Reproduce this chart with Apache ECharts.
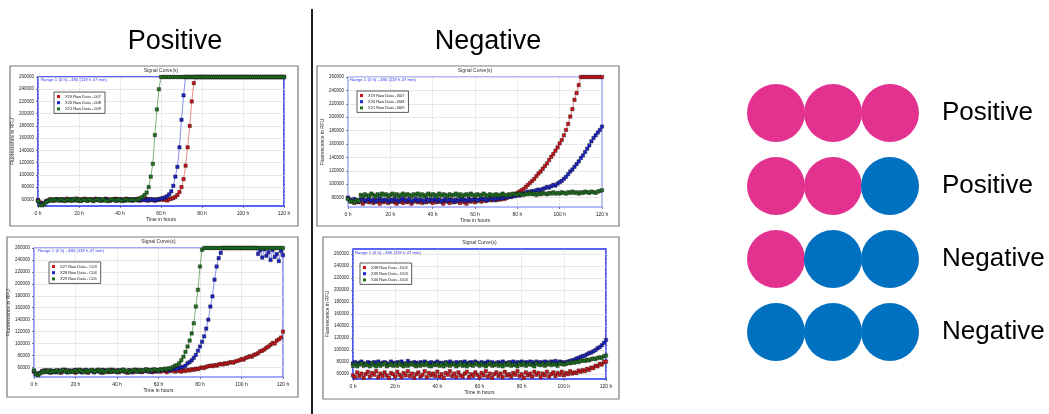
<!DOCTYPE html>
<html>
<head>
<meta charset="utf-8">
<script src="https://cdn.jsdelivr.net/npm/echarts@6/dist/echarts.min.js"></script>
<style>
    html, body { margin: 0; padding: 0; background: #fff; }
    #chart { width: 1049px; height: 414px; }
</style>
</head>
<body>
<div id="chart"></div>
<script>
// sample times (hours)
const hours = [
    0, 1, 2, 3, 4, 5, 6, 7, 8, 9, 10, 11, 12, 13, 14, 15, 16, 17, 18, 19,
    20, 21, 22, 23, 24, 25, 26, 27, 28, 29, 30, 31, 32, 33, 34, 35, 36, 37, 38, 39,
    40, 41, 42, 43, 44, 45, 46, 47, 48, 49, 50, 51, 52, 53, 54, 55, 56, 57, 58, 59,
    60, 61, 62, 63, 64, 65, 66, 67, 68, 69, 70, 71, 72, 73, 74, 75, 76, 77, 78, 79,
    80, 81, 82, 83, 84, 85, 86, 87, 88, 89, 90, 91, 92, 93, 94, 95, 96, 97, 98, 99,
    100, 101, 102, 103, 104, 105, 106, 107, 108, 109, 110, 111, 112, 113, 114, 115, 116, 117, 118, 119, 120
]

// y tick labels (x1000 RFU)
const yTicksFrom60 = [60, 80, 100, 120, 140, 160, 180, 200, 220, 240, 260]
const yTicksFrom80 = [80, 100, 120, 140, 160, 180, 200, 220, 240, 260]

// panel 1 (positive, top) - fluorescence x1000 RFU
const p1Names = ['X19 Raw Data - 007', 'X20 Raw Data - 008', 'X21 Raw Data - 009']
const p1Red = [
    59, 55, 53, 54, 57, 58, 60, 59, 58, 60,
    59, 60, 58, 59, 61, 59, 58, 60, 59, 61,
    58, 60, 59, 61, 58, 59, 60, 58, 61, 59,
    60, 58, 59, 61, 60, 58, 59, 60, 61, 58,
    59, 60, 58, 61, 59, 60, 58, 59, 60, 61,
    58, 60, 59, 61, 58, 60, 59, 58, 60, 59,
    61, 59, 60, 58, 60, 61, 62, 64, 67, 72,
    80, 93, 115, 145, 180, 220, 250, 260, 260, 260,
    260, 260, 260, 260, 260, 260, 260, 260, 260, 260,
    260, 260, 260, 260, 260, 260, 260, 260, 260, 260,
    260, 260, 260, 260, 260, 260, 260, 260, 260, 260,
    260, 260, 260, 260, 260, 260, 260, 260, 260, 260, 260
]
const p1Blue = [
    58, 53, 51, 53, 56, 58, 59, 58, 59, 60,
    59, 58, 60, 59, 58, 59, 60, 58, 59, 60,
    58, 59, 60, 59, 58, 60, 59, 58, 60, 59,
    60, 58, 59, 60, 59, 58, 59, 60, 58, 59,
    60, 59, 58, 59, 60, 59, 58, 60, 59, 58,
    59, 60, 59, 58, 60, 59, 60, 58, 59, 60,
    61, 62, 63, 65, 68, 73, 82, 97, 113, 145,
    190, 230, 260, 260, 260, 260, 260, 260, 260, 260,
    260, 260, 260, 260, 260, 260, 260, 260, 260, 260,
    260, 260, 260, 260, 260, 260, 260, 260, 260, 260,
    260, 260, 260, 260, 260, 260, 260, 260, 260, 260,
    260, 260, 260, 260, 260, 260, 260, 260, 260, 260, 260
]
const p1Green = [
    57, 51, 50, 52, 55, 57, 59, 58, 60, 59,
    58, 60, 59, 57, 59, 60, 58, 59, 61, 58,
    59, 57, 60, 59, 58, 60, 59, 57, 59, 60,
    58, 59, 60, 58, 57, 59, 60, 59, 58, 60,
    59, 57, 59, 60, 58, 59, 60, 59, 59, 60,
    62, 64, 67, 71, 80, 97, 118, 165, 207, 240,
    260, 260, 260, 260, 260, 260, 260, 260, 260, 260,
    260, 260, 260, 260, 260, 260, 260, 260, 260, 260,
    260, 260, 260, 260, 260, 260, 260, 260, 260, 260,
    260, 260, 260, 260, 260, 260, 260, 260, 260, 260,
    260, 260, 260, 260, 260, 260, 260, 260, 260, 260,
    260, 260, 260, 260, 260, 260, 260, 260, 260, 260, 260
]

// panel 2 (negative, top)
const p2Names = ['X19 Raw Data - B07', 'X20 Raw Data - B08', 'X21 Raw Data - B09']
const p2Red = [
    79, 76, 74, 72, 75, 73, 77, 71, 74, 76,
    73, 75, 72, 76, 74, 71, 75, 73, 76, 72,
    74, 76, 73, 71, 75, 74, 72, 76, 73, 75,
    71, 74, 76, 73, 75, 72, 74, 73, 76, 74,
    72, 75, 73, 76, 74, 71, 75, 74, 72, 76,
    73, 75, 74, 72, 76, 73, 71, 75, 74, 76,
    73, 75, 76, 74, 77, 75, 76, 78, 76, 77,
    76, 78, 77, 79, 78, 80, 82, 81, 84, 85,
    87, 89, 91, 93, 96, 99, 102, 105, 108, 112,
    116, 119, 123, 127, 131, 136, 141, 145, 150, 155,
    161, 166, 173, 181, 190, 201, 212, 226, 236, 248,
    260, 260, 260, 260, 260, 260, 260, 260, 260, 260, 260
]
const p2Blue = [
    80, 77, 75, 78, 76, 74, 77, 79, 75, 76,
    78, 75, 77, 74, 76, 79, 75, 77, 76, 74,
    77, 75, 78, 76, 74, 77, 79, 75, 76, 78,
    74, 76, 78, 75, 77, 76, 74, 78, 75, 77,
    76, 78, 75, 77, 74, 76, 78, 75, 77, 76,
    74, 77, 75, 78, 76, 77, 75, 78, 76, 77,
    78, 76, 77, 79, 77, 78, 76, 79, 78, 77,
    79, 78, 80, 79, 81, 80, 82, 81, 83, 82,
    84, 83, 85, 86, 87, 89, 88, 90, 89, 91,
    92, 91, 93, 94, 96, 95, 97, 99, 98, 101,
    103, 105, 108, 111, 115, 119, 122, 126, 130, 134,
    139, 143, 148, 153, 158, 164, 169, 173, 177, 181, 186
]
const p2Green = [
    78, 74, 75, 73, 76, 75, 84, 82, 85, 83,
    83, 86, 84, 82, 85, 83, 86, 84, 85, 82,
    84, 86, 83, 85, 82, 84, 86, 83, 85, 84,
    82, 85, 84, 86, 83, 85, 82, 84, 86, 83,
    85, 84, 82, 86, 83, 85, 84, 82, 85, 83,
    84, 86, 83, 85, 82, 84, 85, 83, 86, 84,
    82, 85, 84, 83, 86, 84, 82, 85, 83, 84,
    85, 83, 84, 86, 84, 83, 85, 84, 86, 85,
    84, 86, 85, 84, 86, 85, 87, 85, 86, 84,
    86, 85, 87, 86, 85, 87, 86, 88, 86, 87,
    86, 88, 87, 86, 88, 87, 89, 87, 88, 86,
    88, 87, 89, 88, 87, 89, 88, 87, 89, 90, 91
]

// panel 3 (positive, bottom)
const p3Names = ['X27 Raw Data - C03', 'X28 Raw Data - C04', 'X29 Raw Data - C05']
const p3Red = [
    53, 49, 48, 51, 54, 52, 55, 53, 51, 54,
    52, 55, 53, 51, 54, 56, 52, 54, 53, 55,
    51, 54, 56, 52, 55, 53, 51, 54, 55, 52,
    54, 56, 53, 51, 55, 54, 52, 56, 53, 54,
    55, 52, 54, 56, 53, 51, 55, 54, 52, 56,
    53, 55, 52, 54, 56, 53, 55, 52, 54, 53,
    55, 53, 56, 54, 52, 55, 54, 56, 53, 55,
    54, 53, 55, 54, 56, 55, 57, 56, 58, 57,
    59, 60, 59, 61, 62, 63, 62, 64, 63, 65,
    66, 65, 67, 66, 68, 69, 68, 70, 71, 72,
    74, 73, 76, 77, 79, 78, 81, 82, 84, 87,
    88, 90, 93, 95, 98, 101, 100, 105, 107, 110, 120
]
const p3Blue = [
    54, 50, 48, 51, 53, 55, 54, 52, 55, 53,
    54, 52, 55, 53, 56, 54, 52, 55, 53, 54,
    56, 53, 55, 52, 54, 56, 53, 55, 54, 52,
    55, 54, 52, 56, 53, 55, 54, 53, 56, 54,
    52, 55, 54, 56, 53, 54, 55, 52, 54, 56,
    54, 53, 55, 54, 56, 55, 53, 56, 54, 55,
    54, 56, 55, 57, 56, 55, 57, 58, 57, 58,
    60, 60, 61, 63, 67, 69, 72, 76, 81, 88,
    95, 103, 112, 125, 140, 162, 179, 207, 229, 243,
    252, 260, 260, 260, 260, 260, 260, 260, 260, 260,
    260, 260, 260, 260, 260, 260, 260, 260, 250, 256,
    244, 258, 247, 253, 240, 257, 245, 250, 238, 255, 248
]
const p3Green = [
    55, 49, 47, 50, 52, 54, 53, 55, 52, 54,
    53, 55, 52, 54, 56, 53, 55, 52, 54, 53,
    55, 53, 56, 54, 52, 55, 53, 54, 56, 53,
    54, 56, 53, 55, 52, 54, 56, 53, 55, 54,
    53, 55, 54, 56, 53, 55, 52, 54, 56, 55,
    53, 56, 54, 55, 57, 54, 56, 55, 57, 56,
    55, 57, 56, 58, 57, 59, 58, 61, 63, 64,
    67, 72, 78, 86, 95, 105, 117, 134, 162, 190,
    229, 257, 260, 260, 260, 260, 260, 260, 260, 260,
    260, 260, 260, 260, 260, 260, 260, 260, 260, 260,
    260, 260, 260, 260, 260, 260, 260, 260, 260, 260,
    260, 260, 260, 260, 260, 260, 260, 260, 260, 260, 260
]

// panel 4 (negative, bottom)
const p4Names = ['X38 Raw Data - D02', 'X39 Raw Data - D03', 'X40 Raw Data - D04']
const p4Red = [
    58, 55, 63, 57, 61, 54, 60, 64, 56, 62,
    59, 65, 55, 61, 57, 63, 58, 54, 62, 60,
    56, 64, 59, 55, 62, 58, 65, 57, 61, 54,
    60, 63, 56, 59, 65, 55, 62, 58, 61, 57,
    64, 56, 60, 54, 62, 59, 65, 57, 61, 55,
    63, 58, 56, 61, 64, 55, 60, 57, 63, 59,
    55, 62, 58, 65, 56, 61, 54, 60, 63, 57,
    61, 55, 64, 58, 60, 56, 62, 59, 65, 57,
    60, 54, 63, 58, 61, 56, 64, 59, 62, 55,
    61, 58, 64, 56, 60, 63, 57, 62, 59, 64,
    58, 62, 60, 65, 61, 63, 62, 66, 64, 67,
    65, 69, 67, 71, 70, 74, 73, 77, 76, 80, 81
]
const p4Blue = [
    78, 80, 77, 79, 81, 78, 76, 80, 79, 77,
    80, 78, 81, 77, 79, 80, 78, 76, 81, 79,
    77, 80, 79, 81, 78, 77, 82, 79, 78, 80,
    79, 77, 80, 78, 81, 79, 77, 80, 78, 79,
    81, 78, 79, 77, 80, 78, 81, 79, 77, 80,
    78, 80, 79, 81, 77, 79, 80, 78, 81, 79,
    77, 80, 78, 79, 81, 78, 80, 77, 79, 80,
    78, 81, 79, 77, 80, 79, 81, 78, 80, 79,
    81, 78, 80, 79, 81, 80, 78, 81, 79, 80,
    79, 81, 80, 78, 81, 80, 82, 79, 81, 80,
    79, 80, 81, 82, 83, 84, 86, 87, 89, 90,
    91, 93, 95, 96, 98, 100, 103, 105, 108, 112, 117
]
const p4Green = [
    74, 77, 73, 76, 78, 74, 77, 75, 73, 78,
    75, 73, 77, 74, 76, 78, 73, 75, 77, 74,
    76, 74, 78, 75, 73, 77, 74, 76, 78, 75,
    73, 76, 74, 77, 75, 78, 74, 73, 76, 75,
    77, 74, 76, 73, 78, 75, 74, 77, 76, 73,
    75, 78, 74, 76, 73, 77, 75, 74, 78, 76,
    74, 77, 75, 73, 76, 78, 74, 75, 77, 74,
    76, 73, 77, 75, 78, 74, 76, 75, 73, 77,
    75, 78, 74, 76, 77, 75, 73, 78, 76, 75,
    77, 74, 76, 78, 75, 77, 76, 74, 78, 77,
    76, 77, 79, 78, 80, 79, 81, 80, 82, 83,
    82, 84, 83, 85, 86, 85, 87, 88, 87, 90, 91
]

// right-hand key: three wells per row
const callPattern = [
    ['pos', 'pos', 'pos'],
    ['pos', 'pos', 'neg'],
    ['pos', 'neg', 'neg'],
    ['neg', 'neg', 'neg'],
]
const callLabels = ['Positive', 'Positive', 'Negative', 'Negative']

const FONT = "'Liberation Sans', Arial, sans-serif"
const seriesColors = [
    { mark: '#d0131b', line: '#e86a6a' },
    { mark: '#1c24cc', line: '#6a70ee' },
    { mark: '#1f731f', line: '#5aa05a' },
]

const panels = [
    { names: p1Names, data: [p1Red, p1Blue, p1Green], grid: { left: 38, top: 77, width: 246, height: 129 },
      yMin: 49, yMax: 260, ticks: yTicksFrom60, frame: [10, 66, 288, 160], legend: [54, 92],
      range: [41, 80], boxColor: '#2633f2', boxWidth: 1.6 },
    { names: p2Names, data: [p2Red, p2Blue, p2Green], grid: { left: 348, top: 77, width: 254, height: 130 },
      yMin: 66, yMax: 260, ticks: yTicksFrom80, frame: [317, 66, 302, 160], legend: [357, 91],
      range: [350, 80], boxColor: '#6e76ff', boxWidth: 1 },
    { names: p3Names, data: [p3Red, p3Blue, p3Green], grid: { left: 34, top: 248, width: 249, height: 129 },
      yMin: 44, yMax: 260, ticks: yTicksFrom60, frame: [7, 237, 291, 160], legend: [49, 262],
      range: [38, 251], boxColor: '#4a55f5', boxWidth: 1.2 },
    { names: p4Names, data: [p4Red, p4Blue, p4Green], grid: { left: 353, top: 249, width: 253, height: 130 },
      yMin: 52, yMax: 268, ticks: yTicksFrom60, frame: [323, 237, 296, 162], legend: [360, 263],
      range: [355, 253], boxColor: '#2633f2', boxWidth: 1.6 },
]

function toPoints(vals) {
    return vals.map((v, i) => [hours[i], v])
}

const grid = []
const xAxis = []
const yAxis = []
const series = []
const legend = []
const graphic = []

panels.forEach((p, k) => {
    grid.push(Object.assign({ show: true, borderColor: p.boxColor, borderWidth: p.boxWidth }, p.grid))
    xAxis.push({
        type: 'value', gridIndex: k, min: 0, max: 120, interval: 20,
        name: 'Time in hours', nameLocation: 'middle', nameGap: 11,
        nameTextStyle: { fontSize: 5, color: '#222', fontFamily: FONT },
        axisLine: { show: false },
        axisTick: { show: true, length: 2, lineStyle: { color: '#333', width: 0.6 } },
        axisLabel: { fontSize: 5, margin: 5, color: '#222', fontFamily: FONT, formatter: '{value} h' },
        splitLine: { show: true, lineStyle: { type: 'dashed', color: '#cfcfcf', width: 0.6 } },
    })
    yAxis.push({
        type: 'value', gridIndex: k, min: p.yMin, max: p.yMax,
        name: 'Fluorescence in RFU', nameLocation: 'middle', nameGap: 19,
        nameTextStyle: { fontSize: 5, color: '#222', fontFamily: FONT },
        axisLine: { show: false },
        axisTick: { show: true, length: 2, customValues: p.ticks, lineStyle: { color: '#333', width: 0.6 } },
        axisLabel: { customValues: p.ticks, fontSize: 4.5, margin: 4, color: '#222', fontFamily: FONT,
            formatter: v => v + '000' },
        splitLine: { show: true, lineStyle: { color: '#e2e2e2', width: 0.8 } },
    })
    p.data.forEach((vals, j) => {
        series.push({
            type: 'line', name: p.names[j], xAxisIndex: k, yAxisIndex: k,
            data: toPoints(vals),
            symbol: 'rect', symbolSize: 3.4, showSymbol: true, showAllSymbol: true,
            lineStyle: { width: 0.8, color: seriesColors[j].line },
            itemStyle: { color: seriesColors[j].mark, borderColor: '#111', borderWidth: 0.4 },
            silent: true,
        })
    })
    legend.push({
        data: p.names.map((n, j) => ({
            name: n,
            itemStyle: { color: seriesColors[j].mark, borderWidth: 0 },
        })),
        left: p.legend[0], top: p.legend[1], orient: 'vertical',
        icon: 'rect', itemWidth: 3, itemHeight: 3, itemGap: 1.2,
        padding: [2, 4, 2, 3], borderColor: '#333', borderWidth: 0.8, backgroundColor: '#fff',
        textStyle: { fontSize: 4, color: '#111', fontFamily: FONT, lineHeight: 5 },
        selectedMode: false,
    })
    const f = p.frame
    graphic.push({
        type: 'rect', shape: { x: f[0], y: f[1], width: f[2], height: f[3] },
        style: { fill: 'none', stroke: '#7a7a7a', lineWidth: 1.2 }, z: 0,
    })
    graphic.push({
        type: 'text', x: p.grid.left + p.grid.width / 2, y: p.grid.top - 6,
        style: { text: 'Signal Curve(s)', fontSize: 5, fontFamily: FONT, fill: '#333',
            align: 'center', verticalAlign: 'middle' },
    })
    graphic.push({
        type: 'text', x: p.range[0], y: p.range[1], z: 10,
        style: { text: 'Range 1 (0 h) - 480 (119 h 47 min)', fontSize: 4.3, fontFamily: FONT,
            fill: '#2a35f0', align: 'left', verticalAlign: 'middle' },
    })
})

// headings and divider
graphic.push(
    { type: 'line', shape: { x1: 312, y1: 9, x2: 312, y2: 414 }, style: { stroke: '#222', lineWidth: 2 } },
    { type: 'text', x: 175, y: 42, style: { text: 'Positive', fontSize: 27, fontFamily: FONT, fill: '#000',
        align: 'center', verticalAlign: 'middle' } },
    { type: 'text', x: 488, y: 42, style: { text: 'Negative', fontSize: 27, fontFamily: FONT, fill: '#000',
        align: 'center', verticalAlign: 'middle' } }
)

// key grid
grid.push({ left: 776, top: 113, width: 114, height: 219, show: false })
xAxis.push({ type: 'value', gridIndex: 4, min: 0, max: 2, show: false })
yAxis.push({
    type: 'value', gridIndex: 4, min: 0, max: 3, interval: 1, inverse: true, position: 'right',
    axisLine: { show: false }, axisTick: { show: false }, splitLine: { show: false },
    axisLabel: { fontSize: 26, color: '#000', fontFamily: FONT, margin: 52, padding: [4, 0, 0, 0],
        formatter: v => callLabels[v] },
})
const keyData = []
callPattern.forEach((row, r) => {
    row.forEach((call, c) => keyData.push([c, r, call]))
})
series.push({
    type: 'scatter', name: 'key', xAxisIndex: 4, yAxisIndex: 4, data: keyData,
    symbol: 'circle', symbolSize: 58, clip: false, silent: true,
    itemStyle: { color: p => (p.value[2] === 'pos' ? '#e3318f' : '#0070c0'), opacity: 1 },
})

const chart = echarts.init(document.getElementById('chart'), null, { renderer: 'canvas' })
chart.setOption({
    animation: false,
    backgroundColor: '#fff',
    textStyle: { fontFamily: FONT },
    grid: grid,
    xAxis: xAxis,
    yAxis: yAxis,
    legend: legend,
    graphic: graphic,
    series: series,
})
</script>
</body>
</html>
